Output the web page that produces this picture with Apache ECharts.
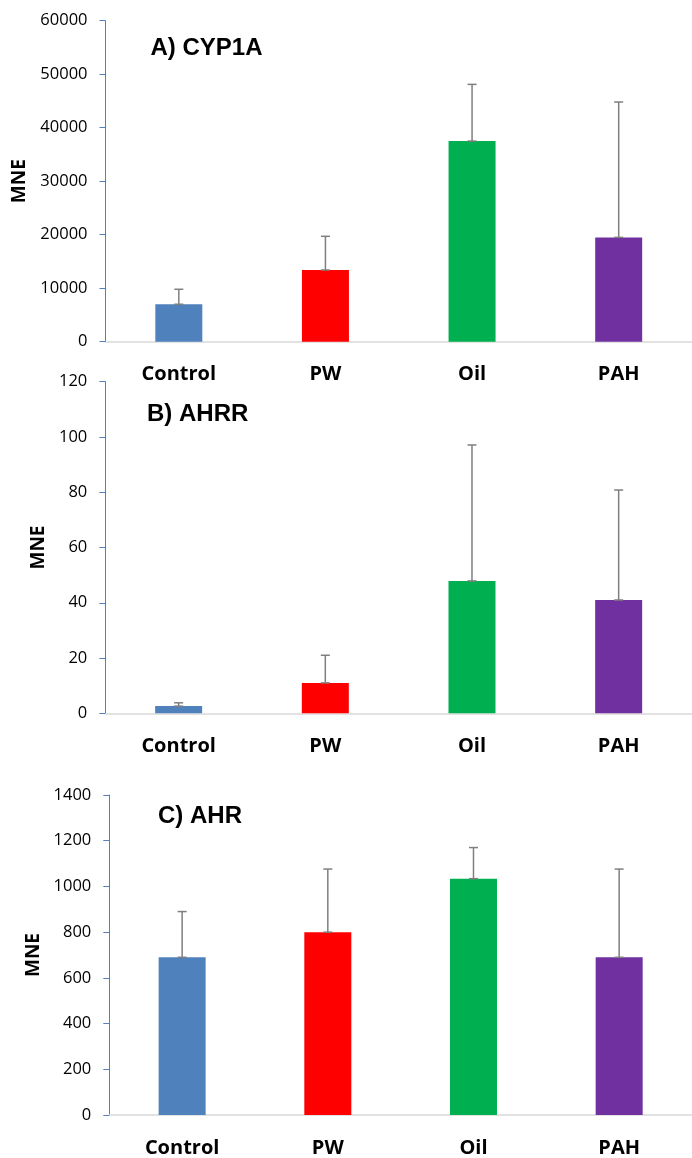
<!DOCTYPE html>
<html>
<head>
<meta charset="utf-8">
<script src="https://cdn.jsdelivr.net/npm/echarts@6/dist/echarts.min.js"></script>
<style>
  html, body { margin: 0; padding: 0; background: #fff; }
  #chart { width: 692px; height: 1158px; }
</style>
</head>
<body>
<div id="chart"></div>
<script>
// Treatment groups and bar colours
const categories = ['Control', 'PW', 'Oil', 'PAH'];
const barColors = ['#4F81BD', '#FF0000', '#00B050', '#7030A0'];

// A) CYP1A — mean and mean + error
const cyp1aMean = [7000, 13400, 37500, 19500];
const cyp1aUpper = [9800, 19700, 48100, 44800];

// B) AHRR
const ahrrMean = [2.6, 11, 47.9, 41];
const ahrrUpper = [3.8, 21, 97.1, 80.8];

// C) AHR
const ahrMean = [690, 800, 1034, 690];
const ahrUpper = [890, 1076, 1170, 1076];

// Panel titles and y-axis ranges
const panelTitles = ['A) CYP1A', 'B) AHRR', 'C) AHR'];
const yMax = [60000, 120, 1400];
const yStep = [10000, 20, 200];

const panels = [
  { mean: cyp1aMean, upper: cyp1aUpper },
  { mean: ahrrMean, upper: ahrrUpper },
  { mean: ahrMean, upper: ahrUpper }
];

const LABEL_FONT = '"Open Sans", "Liberation Sans", Arial, sans-serif';
const TITLE_FONT = '"Liberation Sans", Arial, sans-serif';

const grids = [
  { left: 105.5, top: 20.7, width: 592, height: 321 },
  { left: 105.3, top: 381.7, width: 598, height: 331.6 },
  { left: 109.3, top: 795, width: 591, height: 321 }
];
const titlePos = [
  { left: 150.5, top: 36 },
  { left: 147, top: 402.5 },
  { left: 158, top: 804 }
];
const nameGaps = [74, 55, 63];

function errorBarRender(params, api) {
  const x = api.value(0);
  const p0 = api.coord([x, api.value(1)]);
  const p1 = api.coord([x, api.value(2)]);
  const half = 4.5;
  const style = { stroke: '#7F7F7F', lineWidth: 1.5 };
  return {
    type: 'group',
    children: [
      { type: 'line', shape: { x1: p0[0], y1: p0[1], x2: p1[0], y2: p1[1] }, style: style },
      { type: 'line', shape: { x1: p1[0] - half, y1: p1[1], x2: p1[0] + half, y2: p1[1] }, style: style },
      { type: 'line', shape: { x1: p0[0] - half, y1: p0[1], x2: p0[0] + half, y2: p0[1] }, style: style }
    ]
  };
}

const option = {
  animation: false,
  backgroundColor: '#fff',
  title: panelTitles.map((t, i) => ({
    text: t,
    left: titlePos[i].left,
    top: titlePos[i].top,
    padding: 0,
    textStyle: { fontFamily: TITLE_FONT, fontWeight: 'bold', fontSize: 24, color: '#000' }
  })),
  grid: grids,
  xAxis: grids.map((g, i) => ({
    type: 'category',
    gridIndex: i,
    data: categories,
    axisLine: { lineStyle: { color: '#D9D9D9', width: 1.5 } },
    axisTick: { show: false },
    axisLabel: {
      margin: 23,
      fontFamily: LABEL_FONT,
      fontWeight: 'bold',
      fontSize: 20,
      color: '#000'
    }
  })),
  yAxis: grids.map((g, i) => ({
    type: 'value',
    gridIndex: i,
    min: 0,
    max: yMax[i],
    interval: yStep[i],
    name: 'MNE',
    nameLocation: 'middle',
    nameRotate: 90,
    nameGap: nameGaps[i],
    nameTextStyle: { fontFamily: LABEL_FONT, fontWeight: 'bold', fontSize: 19, color: '#000' },
    axisLine: { show: true, lineStyle: { color: '#4F81BD', width: 1 } },
    axisTick: { show: true, length: 6, lineStyle: { color: '#4F81BD' } },
    splitLine: { show: false },
    axisLabel: {
      margin: 18,
      fontFamily: LABEL_FONT,
      fontSize: 16.5,
      color: '#000',
      formatter: (v) => String(v)
    }
  })),
  series: []
};

panels.forEach((p, i) => {
  option.series.push({
    type: 'bar',
    xAxisIndex: i,
    yAxisIndex: i,
    barWidth: 47,
    data: p.mean.map((v, k) => ({ value: v, itemStyle: { color: barColors[k] } }))
  });
  option.series.push({
    type: 'custom',
    xAxisIndex: i,
    yAxisIndex: i,
    renderItem: errorBarRender,
    encode: { x: 0, y: [1, 2] },
    z: 3,
    data: categories.map((c, k) => [k, p.mean[k], p.upper[k]])
  });
});

const chart = echarts.init(document.getElementById('chart'), null, { renderer: 'canvas' });
chart.setOption(option);
</script>
</body>
</html>
